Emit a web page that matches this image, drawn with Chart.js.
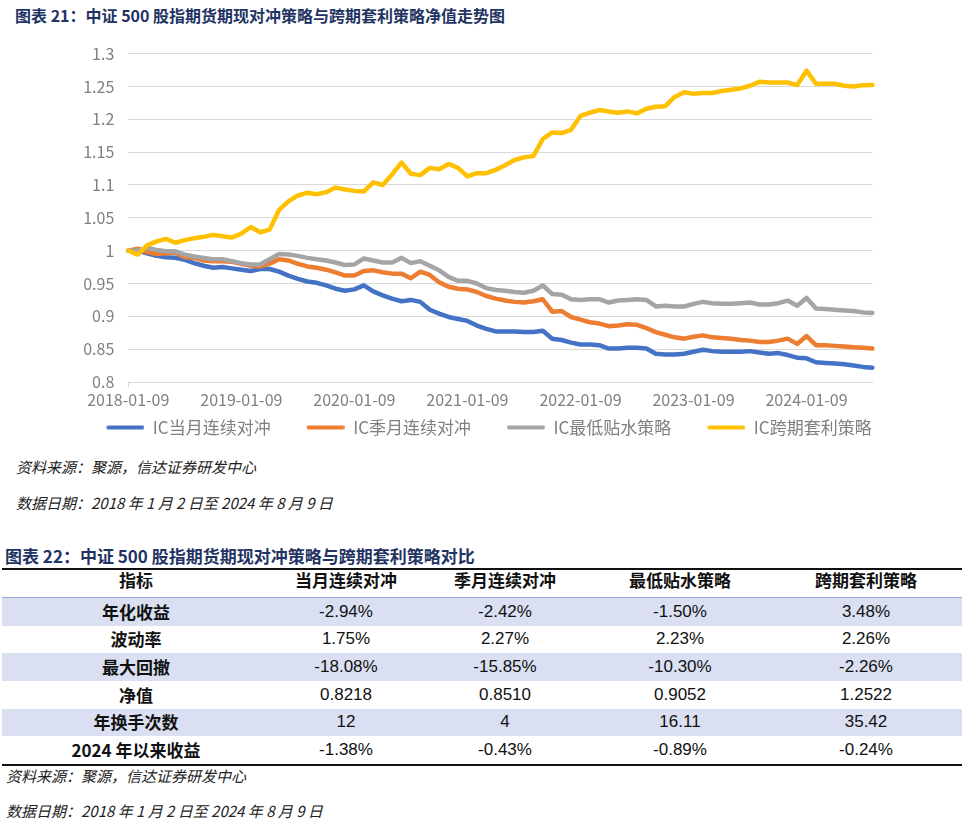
<!DOCTYPE html>
<html><head><meta charset="utf-8">
<script src="https://cdn.jsdelivr.net/npm/chart.js@4.4.1/dist/chart.umd.min.js"></script>
<style>
html,body{margin:0;padding:0;background:#fff;}
body{width:966px;height:824px;position:relative;overflow:hidden;font-family:"Noto Sans CJK SC","Noto Sans",sans-serif;}
.abs{position:absolute;white-space:nowrap;}
.title{font-size:16px;font-weight:bold;color:#1f3463;line-height:20px;}
.title22{font-size:17px;font-weight:bold;color:#1f3463;line-height:20px;}
.note{font-size:15px;font-style:italic;color:#222;line-height:20px;}
.cell{position:absolute;transform:translateX(-50%);white-space:nowrap;line-height:20px;color:#111;}
.hd{font-size:17px;font-weight:bold;}
.lab{font-size:17px;font-weight:bold;}
.num{font-size:17px;font-family:"Liberation Sans",Arial,sans-serif;}
</style></head>
<body>
<div class="abs title" style="left:15px;top:5px;">图表 21：中证 500 股指期货期现对冲策略与跨期套利策略净值走势图</div>
<div class="abs" style="left:58px;top:30px;width:835px;height:416px;"><canvas id="c" width="835" height="416"></canvas></div>
<div class="abs note" style="left:16px;top:457px;">资料来源：聚源，信达证券研发中心</div>
<div class="abs note" style="left:16px;top:493px;">数据日期：2018 年 1 月 2 日至 2024 年 8 月 9 日</div>
<div class="abs title22" style="left:5px;top:546px;">图表 22：中证 500 股指期货期现对冲策略与跨期套利策略对比</div>
<div id="tbl"></div>
<div class="abs note" style="left:6px;top:766px;">资料来源：聚源，信达证券研发中心</div>
<div class="abs note" style="left:6px;top:801px;">数据日期：2018 年 1 月 2 日至 2024 年 8 月 9 日</div>
<script>
// ---- chart data ----
const dates = ['2018-01-09','2018-02-09','2018-03-09','2018-04-09','2018-05-09','2018-06-09','2018-07-09','2018-08-09','2018-09-09','2018-10-09','2018-11-09','2018-12-09',
'2019-01-09','2019-02-09','2019-03-09','2019-04-09','2019-05-09','2019-06-09','2019-07-09','2019-08-09','2019-09-09','2019-10-09','2019-11-09','2019-12-09',
'2020-01-09','2020-02-09','2020-03-09','2020-04-09','2020-05-09','2020-06-09','2020-07-09','2020-08-09','2020-09-09','2020-10-09','2020-11-09','2020-12-09',
'2021-01-09','2021-02-09','2021-03-09','2021-04-09','2021-05-09','2021-06-09','2021-07-09','2021-08-09','2021-09-09','2021-10-09','2021-11-09','2021-12-09',
'2022-01-09','2022-02-09','2022-03-09','2022-04-09','2022-05-09','2022-06-09','2022-07-09','2022-08-09','2022-09-09','2022-10-09','2022-11-09','2022-12-09',
'2023-01-09','2023-02-09','2023-03-09','2023-04-09','2023-05-09','2023-06-09','2023-07-09','2023-08-09','2023-09-09','2023-10-09','2023-11-09','2023-12-09',
'2024-01-09','2024-02-09','2024-03-09','2024-04-09','2024-05-09','2024-06-09','2024-07-09','2024-08-09'];

const xTickLabels = ['2018-01-09','2019-01-09','2020-01-09','2021-01-09','2022-01-09','2023-01-09','2024-01-09'];
const yTickLabels = ['0.8','0.85','0.9','0.95','1','1.05','1.1','1.15','1.2','1.25','1.3'];
const seriesNames = ['IC当月连续对冲','IC季月连续对冲','IC最低贴水策略','IC跨期套利策略'];
const seriesColors = ['#4472C4','#ED7D31','#A5A5A5','#FFC000'];

const icMonth = [1.000,1.000,0.996,0.992,0.990,0.989,0.986,0.981,0.977,0.974,0.975,0.973,
 0.971,0.969,0.972,0.972,0.968,0.962,0.957,0.953,0.951,0.947,0.942,0.939,
 0.941,0.947,0.938,0.932,0.927,0.923,0.925,0.922,0.910,0.904,0.899,0.896,
 0.893,0.886,0.881,0.877,0.877,0.877,0.876,0.876,0.878,0.866,0.864,0.860,
 0.857,0.857,0.856,0.851,0.851,0.852,0.852,0.851,0.843,0.842,0.842,0.843,
 0.846,0.849,0.847,0.846,0.846,0.846,0.847,0.845,0.843,0.844,0.841,0.837,
 0.836,0.830,0.829,0.828,0.827,0.825,0.823,0.8218];

const icQuarter = [1.000,1.003,0.998,0.995,0.996,0.997,0.990,0.989,0.985,0.984,0.984,0.983,
 0.980,0.977,0.976,0.980,0.987,0.985,0.980,0.976,0.974,0.971,0.967,0.962,
 0.962,0.969,0.970,0.967,0.965,0.965,0.958,0.968,0.963,0.952,0.945,0.942,
 0.941,0.937,0.931,0.927,0.924,0.922,0.921,0.923,0.926,0.907,0.908,0.899,
 0.895,0.891,0.889,0.885,0.886,0.888,0.887,0.882,0.876,0.872,0.868,0.866,
 0.869,0.871,0.868,0.867,0.866,0.864,0.863,0.861,0.861,0.863,0.866,0.858,
 0.870,0.856,0.856,0.855,0.854,0.853,0.852,0.8510];

const icMinBasis = [1.000,1.000,1.004,1.001,0.999,0.999,0.994,0.991,0.989,0.987,0.987,0.984,
 0.981,0.979,0.979,0.987,0.995,0.994,0.992,0.989,0.987,0.985,0.982,0.978,
 0.979,0.988,0.985,0.982,0.982,0.989,0.981,0.984,0.977,0.970,0.960,0.954,
 0.954,0.950,0.943,0.940,0.939,0.937,0.936,0.939,0.947,0.934,0.933,0.926,
 0.925,0.926,0.926,0.921,0.924,0.925,0.926,0.925,0.915,0.916,0.915,0.915,
 0.919,0.922,0.920,0.919,0.919,0.920,0.921,0.918,0.918,0.920,0.924,0.916,
 0.928,0.912,0.911,0.910,0.909,0.908,0.906,0.9052];

const icCalendar = [1.000,0.994,1.008,1.014,1.018,1.012,1.016,1.019,1.021,1.024,1.022,1.020,
 1.026,1.036,1.028,1.032,1.062,1.075,1.084,1.088,1.086,1.089,1.096,1.093,
 1.091,1.090,1.104,1.100,1.116,1.134,1.117,1.115,1.126,1.124,1.132,1.126,
 1.113,1.118,1.118,1.123,1.130,1.138,1.142,1.144,1.170,1.180,1.179,1.184,
 1.205,1.210,1.214,1.212,1.210,1.212,1.209,1.216,1.219,1.220,1.234,1.241,
 1.239,1.240,1.240,1.243,1.245,1.247,1.251,1.257,1.256,1.256,1.256,1.252,
 1.274,1.254,1.254,1.254,1.251,1.250,1.252,1.2522];

// ---- table data ----
const tableHeaders = ['指标','当月连续对冲','季月连续对冲','最低贴水策略','跨期套利策略'];
const rowLabels = ['年化收益','波动率','最大回撤','净值','年换手次数','2024 年以来收益'];
const colMonth = ['-2.94%','1.75%','-18.08%','0.8218','12','-1.38%'];
const colQuarter = ['-2.42%','2.27%','-15.85%','0.8510','4','-0.43%'];
const colMinBasis = ['-1.50%','2.23%','-10.30%','0.9052','16.11','-0.89%'];
const colCalendar = ['3.48%','2.26%','-2.26%','1.2522','35.42','-0.24%'];

// ---- build table ----
(function(){
  const t = document.getElementById('tbl');
  const centers = [136,346,505,680,866];
  let h = '';
  h += '<div class="abs" style="left:2px;top:568px;width:960px;height:2px;background:#111;"></div>';
  tableHeaders.forEach((s,i)=>{ h += `<div class="cell hd" style="left:${centers[i]}px;top:570px;">${s}</div>`; });
  const rowTop0 = 598, rh = 27.7;
  const cols = [colMonth,colQuarter,colMinBasis,colCalendar];
  rowLabels.forEach((lab,r)=>{
    const top = rowTop0 + r*rh;
    if (r%2===0) h += `<div class="abs" style="left:2px;top:${top}px;width:960px;height:${rh}px;background:#dae0f2;"></div>`;
    h += `<div class="cell lab" style="left:${centers[0]}px;top:${top+3.5}px;">${lab}</div>`;
    cols.forEach((c,j)=>{ h += `<div class="cell num" style="left:${centers[j+1]}px;top:${top+3.5}px;">${c[r]}</div>`; });
  });
  h += '<div class="abs" style="left:2px;top:597px;width:960px;height:1px;background:#8ea9db;"></div>';
  h += '<div class="abs" style="left:2px;top:764px;width:960px;height:2px;background:#111;"></div>';
  t.innerHTML = h;
})();

// ---- legend line symbols (line drawn at right part of a wider symbol box) ----
const LEG_W = 65, LEG_LINE = 38;
function legendSymbol(color){
  const cv = document.createElement('canvas');
  cv.width = LEG_W; cv.height = 8;
  const g = cv.getContext('2d');
  g.strokeStyle = color; g.lineWidth = 4; g.lineCap = 'round';
  g.beginPath(); g.moveTo(LEG_W - LEG_LINE + 2, 4); g.lineTo(LEG_W - 2, 4); g.stroke();
  return cv;
}

// ---- chart ----
const seriesData = [icMonth, icQuarter, icMinBasis, icCalendar];
const tickFont = {family:'"Noto Sans CJK SC","Noto Sans",sans-serif', size:16};
new Chart(document.getElementById('c'), {
  type:'line',
  data:{
    labels: dates,
    datasets: seriesData.map((d,i)=>({
      label: seriesNames[i], data: d, borderColor: seriesColors[i], backgroundColor: seriesColors[i],
      borderWidth: 4.5, pointRadius: 0, tension: 0, borderJoinStyle:'round', borderCapStyle:'round',
      order: 3 - i
    }))
  },
  options:{
    responsive:false, animation:false, devicePixelRatio:1,
    layout:{padding:{left:0, right:0, top:21.7, bottom:0}},
    plugins:{
      tooltip:{enabled:false},
      legend:{
        position:'bottom',
        labels:{
          usePointStyle:true, pointStyleWidth:LEG_W, padding:9,
          color:'#7f7f7f', font:{family:'"Noto Sans CJK SC","Noto Sans",sans-serif', size:17},
          generateLabels: chart => chart.data.datasets.map((ds,i)=>({
            text: ds.label, fillStyle: ds.borderColor, strokeStyle: ds.borderColor, lineWidth:0,
            hidden:false, datasetIndex:i, fontColor:'#7f7f7f', pointStyle: legendSymbol(ds.borderColor)
          }))
        }
      }
    },
    scales:{
      x:{
        afterFit: s => { s.height = 28; },
        grid:{display:true, drawOnChartArea:false, drawTicks:true, tickLength:5,
              tickColor: c => xTickLabels.includes(dates[c.index]) ? '#d9d9d9' : 'rgba(0,0,0,0)'},
        border:{display:true, color:'#d9d9d9'},
        ticks:{autoSkip:false, maxRotation:0, minRotation:0, padding:3, color:'#808080', font:tickFont,
               callback: function(v, i){ const l = dates[i]; return xTickLabels.includes(l) ? l : null; }}
      },
      y:{
        min:0.8, max:1.3,
        afterFit: s => { s.width = 70.3; },
        afterBuildTicks: s => { s.ticks = yTickLabels.map(v => ({value: parseFloat(v)})); },
        grid:{color:'#d9d9d9', lineWidth:1, drawTicks:false},
        border:{display:false},
        ticks:{padding:14, color:'#808080', font:tickFont,
               callback: v => yTickLabels.find(l => Math.abs(parseFloat(l) - v) < 1e-6) || ''}
      },
      yPad:{
        position:'right', display:true, min:0, max:1,
        afterFit: s => { s.width = 20.5; },
        grid:{display:false, drawTicks:false}, border:{display:false}, ticks:{display:false}
      }
    }
  }
});
</script>
</body></html>
